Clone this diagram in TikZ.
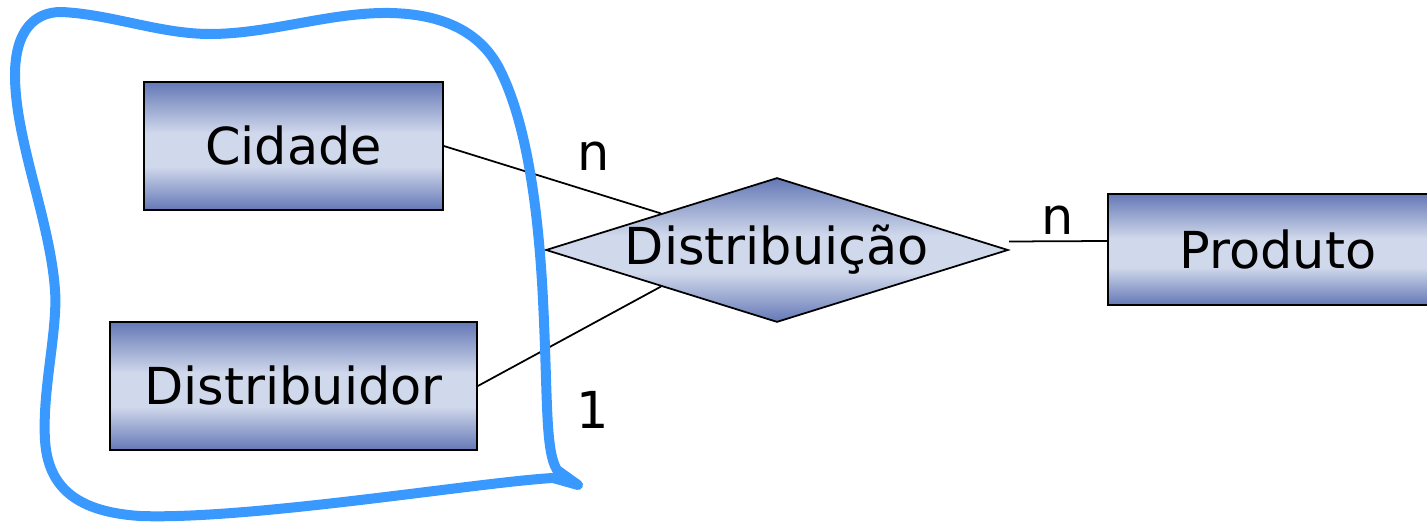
\documentclass[tikz,border=0pt]{standalone}
\usepackage{fontspec}
\setmainfont{DejaVu Sans}
\usepackage{tikz}
\usetikzlibrary{shapes.geometric}
\definecolor{boxdark}{RGB}{100,120,182}
\definecolor{boxlight}{RGB}{208,216,235}
\definecolor{blobblue}{RGB}{58,153,255}
\pgfdeclareverticalshading{entshade}{100bp}{color(0bp)=(boxdark); color(25bp)=(boxdark); color(42bp)=(boxlight); color(55bp)=(boxlight); color(75bp)=(boxdark); color(100bp)=(boxdark)}
\tikzset{
    entbox/.style={rectangle, draw=black, line width=1pt, shading=entshade, minimum height=2.56cm, inner sep=0pt, font=\fontsize{29}{34}\selectfont},
    relbox/.style={diamond, draw=black, line width=1pt, shading=entshade, aspect=3.2, inner sep=0pt, minimum width=9.24cm, minimum height=2.88cm, font=\fontsize{29}{34}\selectfont},
    conn/.style={-, line width=1pt},
    cardlbl/.style={font=\fontsize{29}{34}\selectfont},
    blob/.style={draw=blobblue, line width=0.2cm, line join=round}
}

\begin{document}
\begin{tikzpicture}[x=0.02cm, y=-0.02cm]
    \useasboundingbox (0,0) rectangle (1427,526);

    \node[entbox, minimum width=5.98cm] (cidade) at (293.5,146) {Cidade};
    \node[entbox, minimum width=7.34cm] (distribuidor) at (293.5,386) {Distribuidor};
    \node[entbox, minimum width=6.8cm, minimum height=2.22cm] (produto) at (1278,249.5) {Produto};
    \node[relbox] (rel) at (777,250) {Distribuição};

    \path [conn](cidade.east) edge (rel.north west);
    \path [conn](distribuidor.east) edge (rel.south west);
    \path [conn]([yshift=0.17cm]rel.east) edge ([yshift=0.17cm]produto.west);

    \node[cardlbl] (ncid) at (594,156) {n};
    \node[cardlbl] (nprod) at (1058,220) {n};
    \node[cardlbl] (udist) at (593,410) {1};

    % aggregation outline
    \draw[blob] (61,12) .. controls (110,14) and (160,34) .. (210,34)
        .. controls (270,34) and (330,12) .. (390,13)
        .. controls (440,14) and (480,30) .. (500,70)
        .. controls (525,120) and (538,200) .. (543,300)
        .. controls (548,400) and (545,450) .. (557,470)
        -- (578,485) -- (553,478)
        .. controls (480,482) and (250,520) .. (140,516)
        .. controls (80,512) and (48,490) .. (45,440)
        .. controls (42,390) and (58,330) .. (55,290)
        .. controls (50,220) and (15,140) .. (15,75)
        .. controls (15,30) and (35,12) .. (61,12) -- cycle;
\end{tikzpicture}
\end{document}
